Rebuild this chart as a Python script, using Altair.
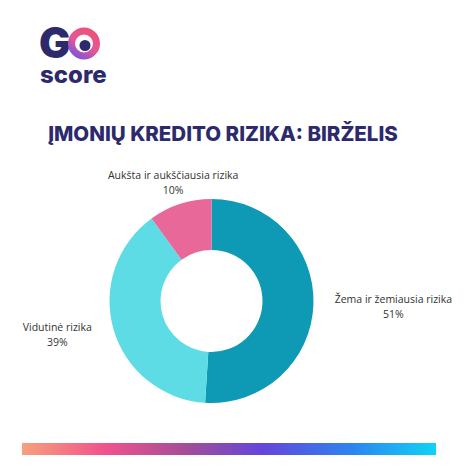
import altair as alt
import pandas as pd

categories = ["Žema ir žemiausia rizika", "Vidutinė rizika", "Aukšta ir aukščiausia rizika"]
values = [51, 39, 10]
colors = ["#0E9AB5", "#5EDCE5", "#E8689A"]
title_text = "ĮMONIŲ KREDITO RIZIKA: BIRŽELIS"
logo_top = "G"
logo_bottom = "score"

NAVY = "#2C2A6C"
df = pd.DataFrame({
    "category": categories,
    "value": values,
    "order": list(range(len(categories))),
})
df["label"] = [f"{c}\n{v}%" for c, v in zip(categories, values)]

CX, CY = 203.5, 293

donut = alt.Chart(df).mark_arc(outerRadius=102, innerRadius=51).encode(
    theta=alt.Theta("value:Q", stack=True),
    order=alt.Order("order:Q"),
    color=alt.Color("category:N", scale=alt.Scale(domain=categories, range=colors), legend=None),
    x=alt.value(CX), y=alt.value(CY),
)

labels = alt.Chart(df).transform_window(
    cum="sum(value)", sort=[alt.SortField("order")]
).transform_joinaggregate(
    total="sum(value)"
).transform_calculate(
    mid="(datum.cum - datum.value / 2) / datum.total * 2 * PI + (datum.order == 1 ? 0.063 : 0)",
    r="datum.order == 0 ? 182 : (datum.order == 1 ? 158 : 124)",
).mark_text(
    lineBreak="\n", fontSize=10.5, font="Open Sans", color="#333333",
    align="center", baseline="middle", lineHeight=15, dy=-7,
).encode(
    text="label:N",
    theta=alt.Theta("mid:Q", scale=None, stack=None),
    radius=alt.Radius("r:Q", scale=None),
    x=alt.value(CX), y=alt.value(CY),
)

one = pd.DataFrame({"t": [title_text], "g": [logo_top], "s": [logo_bottom]})
title = alt.Chart(one).mark_text(
    fontSize=20.5, fontWeight=800, font="Inter", color=NAVY, align="center", baseline="alphabetic"
).encode(text="t:N", x=alt.value(215), y=alt.value(133))

logo_g = alt.Chart(one).mark_text(
    fontSize=42, fontWeight=900, font="Inter", color=NAVY, align="left", baseline="alphabetic"
).encode(text="g:N", x=alt.value(31), y=alt.value(50))

logo_s = alt.Chart(one).mark_text(
    fontSize=24, fontWeight=800, font="Inter", color=NAVY, align="left", baseline="alphabetic"
).encode(text="s:N", x=alt.value(32), y=alt.value(75))

ring = alt.Chart(one).mark_arc(
    theta=0, theta2=6.2832, outerRadius=16, innerRadius=9,
    fill=alt.Gradient(gradient="linear", x1=0.8, y1=0, x2=0.2, y2=1,
                      stops=[alt.GradientStop(color="#F0506E", offset=0),
                             alt.GradientStop(color="#E2579A", offset=0.55),
                             alt.GradientStop(color="#6A52E6", offset=1)]),
).encode(x=alt.value(76), y=alt.value(35.5))

dot = alt.Chart(one).mark_arc(
    theta=0, theta2=6.2832, outerRadius=5.5, innerRadius=0, fill=NAVY,
).encode(x=alt.value(77), y=alt.value(37.5))

bar = alt.Chart(one).mark_rect(
    fill=alt.Gradient(gradient="linear", x1=0, y1=0, x2=1, y2=0,
                      stops=[alt.GradientStop(color="#F8A07C", offset=0),
                             alt.GradientStop(color="#F0538C", offset=0.2),
                             alt.GradientStop(color="#A24D98", offset=0.4),
                             alt.GradientStop(color="#6445DC", offset=0.58),
                             alt.GradientStop(color="#2D85EF", offset=0.8),
                             alt.GradientStop(color="#0FD3F5", offset=1)]),
).encode(x=alt.value(14), x2=alt.value(428), y=alt.value(435), y2=alt.value(447))

chart = alt.layer(donut, labels, title, logo_g, ring, dot, logo_s, bar).properties(
    width=458, height=458, padding=0, autosize="none",
).configure_view(stroke=None)

chart.save("out.html", embed_options={"renderer": "svg", "actions": False})
